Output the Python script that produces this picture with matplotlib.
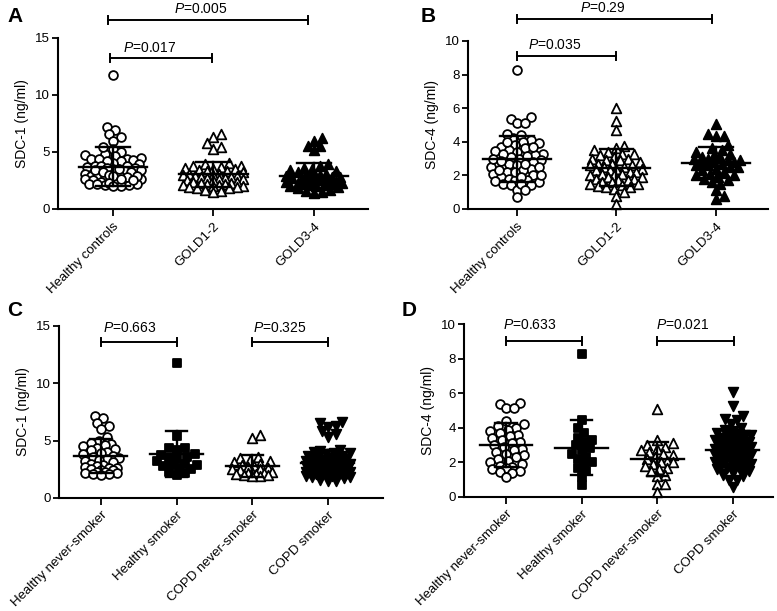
import numpy as np
import matplotlib.pyplot as plt

plt.rcParams['font.family'] = ['Liberation Sans', 'DejaVu Sans']
plt.rcParams['mathtext.fontset'] = 'custom'
plt.rcParams['mathtext.rm'] = 'Liberation Sans'
plt.rcParams['mathtext.it'] = 'Liberation Sans:italic'

# ---- data (ng/ml) ----
# SDC-1, healthy subjects split by smoking
hns_sdc1 = [7.15, 6.95, 6.56, 6.28, 6.0, 5.3, 5.0, 4.8, 4.7, 4.6, 4.5, 4.4, 4.3, 4.2, 4.0,
            3.9, 3.8, 3.7, 3.6, 3.5, 3.4, 3.3, 3.2, 3.1, 3.0, 2.9, 2.8, 2.7, 2.6, 2.6,
            2.5, 2.4, 2.4, 2.3, 2.3, 2.2, 2.2, 2.1, 2.1, 2.0]
hs_sdc1 = [11.74, 5.4, 4.4, 4.4, 4.2, 3.8, 3.75, 3.6, 3.5, 3.4, 3.2, 3.0, 2.9, 2.9, 2.8,
           2.6, 2.5, 2.3, 2.15, 2.0]
cns_sdc1 = [5.49, 5.2, 3.6, 3.5, 3.3, 3.2, 3.1, 3.0, 2.9, 2.8, 2.7, 2.6, 2.5, 2.5, 2.4,
            2.3, 2.3, 2.2, 2.2, 2.1, 2.1, 2.0, 2.0, 1.95, 1.9]
cs_sdc1 = [6.65, 6.5, 6.3, 6.2, 5.8, 5.6, 5.35, 4.2, 4.1, 4.0, 3.9, 3.9, 3.8, 3.7, 3.7,
           3.6, 3.5, 3.5, 3.4, 3.4, 3.3, 3.3, 3.2, 3.2, 3.1, 3.1, 3.0, 3.0, 2.9, 2.9,
           2.9, 2.8, 2.8, 2.8, 2.7, 2.7, 2.7, 2.6, 2.6, 2.6, 2.5, 2.5, 2.5, 2.4, 2.4,
           2.4, 2.3, 2.3, 2.3, 2.2, 2.2, 2.2, 2.1, 2.1, 2.1, 2.0, 2.0, 2.0, 1.9, 1.9,
           1.8, 1.8, 1.7, 1.6, 1.5, 1.45]
g12_sdc1 = [6.55, 6.3, 5.75, 5.45, 5.3, 4.0, 3.9, 3.8, 3.8, 3.7, 3.6, 3.5, 3.5, 3.4, 3.3,
            3.3, 3.2, 3.1, 3.1, 3.0, 3.0, 2.9, 2.9, 2.8, 2.8, 2.7, 2.7, 2.6, 2.6, 2.5,
            2.5, 2.4, 2.4, 2.3, 2.3, 2.2, 2.2, 2.1, 2.1, 2.0, 2.0, 1.9, 1.9, 1.8, 1.8,
            1.7, 1.6, 1.5]
g34_sdc1 = [6.2, 5.95, 5.55, 5.55, 5.15, 3.9, 3.8, 3.6, 3.5, 3.4, 3.3, 3.2, 3.1, 3.0, 3.0,
            2.9, 2.9, 2.8, 2.8, 2.7, 2.7, 2.6, 2.6, 2.5, 2.5, 2.4, 2.4, 2.3, 2.3, 2.2,
            2.2, 2.1, 2.1, 2.0, 2.0, 1.9, 1.8, 1.7, 1.6, 1.5, 1.4]

# SDC-4
hns_sdc4 = [5.45, 5.38, 5.13, 5.13, 4.4, 4.2, 4.1, 4.0, 3.9, 3.8, 3.7, 3.6, 3.5, 3.4, 3.3,
            3.2, 3.1, 3.0, 2.9, 2.8, 2.7, 2.6, 2.5, 2.4, 2.3, 2.2, 2.1, 2.0, 1.9, 1.8,
            1.75, 1.7, 1.6, 1.5, 1.45, 1.4, 1.14]
hs_sdc4 = [8.27, 4.45, 3.97, 3.68, 3.43, 3.3, 3.16, 3.0, 2.85, 2.7, 2.5, 2.33, 2.2, 2.0,
           1.9, 1.69, 1.5, 1.14, 0.69]
cns_sdc4 = [5.07, 3.3, 3.1, 3.0, 2.9, 2.8, 2.7, 2.6, 2.5, 2.4, 2.3, 2.2, 2.1, 2.0, 2.0,
            1.9, 1.8, 1.7, 1.6, 1.5, 1.27, 1.2, 0.75, 0.75, 0.31]
cs_sdc4 = [6.05, 5.28, 4.7, 4.5, 4.45, 4.2, 4.0, 3.9, 3.8, 3.7, 3.6, 3.6, 3.5, 3.5, 3.4,
           3.4, 3.3, 3.3, 3.2, 3.2, 3.1, 3.1, 3.0, 3.0, 3.0, 2.9, 2.9, 2.8, 2.8, 2.8,
           2.7, 2.7, 2.6, 2.6, 2.6, 2.5, 2.5, 2.4, 2.4, 2.4, 2.3, 2.3, 2.2, 2.2, 2.2,
           2.1, 2.1, 2.0, 2.0, 1.9, 1.9, 1.8, 1.8, 1.7, 1.7, 1.6, 1.6, 1.5, 1.4, 1.3,
           1.2, 1.0, 0.98, 0.6]
g12_sdc4 = [6.0, 5.24, 4.7, 3.75, 3.6, 3.5, 3.4, 3.3, 3.3, 3.2, 3.1, 3.0, 3.0, 2.9, 2.9,
            2.8, 2.7, 2.7, 2.6, 2.6, 2.5, 2.5, 2.4, 2.4, 2.3, 2.3, 2.2, 2.2, 2.1, 2.1,
            2.0, 2.0, 1.9, 1.9, 1.8, 1.8, 1.7, 1.7, 1.6, 1.6, 1.5, 1.5, 1.4, 1.35, 1.3,
            1.3, 1.2, 1.0, 0.8, 0.3]
g34_sdc4 = [5.06, 4.46, 4.35, 4.35, 3.8, 3.6, 3.5, 3.4, 3.3, 3.2, 3.1, 3.1, 3.0, 3.0, 2.9,
            2.9, 2.8, 2.8, 2.7, 2.7, 2.6, 2.6, 2.5, 2.5, 2.4, 2.3, 2.2, 2.1, 2.0, 2.0,
            1.9, 1.8, 1.7, 1.6, 1.5, 1.13, 0.77, 0.58]

# mean and SD bars as printed
means_a, sds_a = [3.71, 3.04, 2.93], [1.70, 1.11, 1.07]
means_b, sds_b = [2.98, 2.46, 2.76], [1.37, 1.09, 0.91]
means_c, sds_c = [3.66, 3.84, 2.79, 3.08], [1.44, 2.03, 0.93, 1.10]
means_d, sds_d = [3.00, 2.85, 2.20, 2.72], [1.26, 1.60, 1.00, 1.15]

labels_gold = ["Healthy controls", "GOLD1-2", "GOLD3-4"]
labels_smoke = ["Healthy never-smoker", "Healthy smoker", "COPD never-smoker", "COPD smoker"]

# marker, filled?
styles_gold = [("o", False), ("^", False), ("^", True)]
styles_smoke = [("o", False), ("s", True), ("^", False), ("v", True)]
msize = {"o": 40, "^": 48, "v": 48, "s": 36}

FIG_W, FIG_H = 777, 611


def swarm_offsets(vals_px, max_w, min_dist=7.0, step=2.0):
    # beeswarm in pixel space; squeezes into +-max_w when crowded
    n = len(vals_px)
    xs = np.zeros(n)
    cands = [0.0]
    k = 1
    while k * step <= max_w:
        cands += [k * step, -k * step]
        k += 1
    placed_x, placed_y = [], []
    for i in np.argsort(vals_px):
        y = vals_px[i]
        best, best_d = 0.0, -1.0
        for c in cands:
            if placed_x:
                dd = np.hypot(np.array(placed_x) - c, np.array(placed_y) - y).min()
            else:
                dd = 1e9
            if dd >= min_dist:
                best = c
                break
            if dd > best_d + 0.5:
                best, best_d = c, dd
        xs[i] = best
        placed_x.append(best)
        placed_y.append(y)
    return xs


def draw_panel(ax, groups, means, sds, labels, styles, ymax, ystep, ylabel, xlim,
               widths, mean_hw, cap_hw):
    ax.set_xlim(*xlim)
    ax.set_ylim(0, ymax)
    pos = ax.get_position()
    px_x = pos.width * FIG_W / (xlim[1] - xlim[0])
    px_y = pos.height * FIG_H / ymax
    for i, vals in enumerate(groups):
        v = np.asarray(vals, dtype=float)
        xs = i + swarm_offsets(v * px_y, widths[i]) / px_x
        m, filled = styles[i]
        ax.scatter(xs, v, s=msize[m], marker=m, facecolor="black" if filled else "white",
                   edgecolor="black", linewidth=1.3, zorder=2, clip_on=False)
        mu, sd = means[i], sds[i]
        ax.plot([i - mean_hw, i + mean_hw], [mu, mu], color="black", lw=1.7, zorder=3)
        ax.plot([i, i], [mu - sd, mu + sd], color="black", lw=1.7, zorder=3)
        for yy in (mu - sd, mu + sd):
            ax.plot([i - cap_hw, i + cap_hw], [yy, yy], color="black", lw=1.7, zorder=3)
    ax.set_yticks(np.arange(0, ymax + 0.1, ystep))
    ax.set_xticks(range(len(labels)))
    ax.set_xticklabels(labels, rotation=45, ha="right", rotation_mode="anchor", fontsize=9.5)
    ax.tick_params(axis="y", labelsize=9.5, width=1.3, length=4, pad=2)
    ax.tick_params(axis="x", width=1.3, length=5, pad=3)
    ax.set_ylabel(ylabel, fontsize=10, labelpad=4)
    for sp in ("top", "right"):
        ax.spines[sp].set_visible(False)
    for sp in ("left", "bottom"):
        ax.spines[sp].set_linewidth(1.5)


def bracket(ax, x0, x1, y, tick, text, tx, ty):
    ax.plot([x0, x1], [y, y], color="black", lw=1.4, clip_on=False)
    for xx in (x0, x1):
        ax.plot([xx, xx], [y - tick, y + tick], color="black", lw=1.4, clip_on=False)
    ax.text(tx, ty, text, ha="center", va="center", fontsize=10, clip_on=False)


fig = plt.figure(figsize=(7.77, 6.11), dpi=100)

ax_a = fig.add_axes([0.0746, 0.658, 0.399, 0.280])
ax_b = fig.add_axes([0.6023, 0.658, 0.3861, 0.275])
ax_c = fig.add_axes([0.0759, 0.185, 0.4170, 0.2815])
ax_d = fig.add_axes([0.5972, 0.1866, 0.3977, 0.2831])

draw_panel(ax_a, [hns_sdc1 + hs_sdc1, g12_sdc1, g34_sdc1], means_a, sds_a, labels_gold,
           styles_gold, 15, 5, "SDC-1 (ng/ml)", (-0.547, 2.537), [29, 30, 29], 0.34, 0.17)
draw_panel(ax_b, [hns_sdc4 + hs_sdc4, g12_sdc4, g34_sdc4], means_b, sds_b, labels_gold,
           styles_gold, 10, 2, "SDC-4 (ng/ml)", (-0.49, 2.52), [26, 26, 25], 0.34, 0.17)
draw_panel(ax_c, [hns_sdc1, hs_sdc1, cns_sdc1, cs_sdc1], means_c, sds_c, labels_smoke,
           styles_smoke, 15, 5, "SDC-1 (ng/ml)", (-0.555, 3.73), [19, 20, 20, 22], 0.35, 0.14)
draw_panel(ax_d, [hns_sdc4, hs_sdc4, cns_sdc4, cs_sdc4], means_d, sds_d, labels_smoke,
           styles_smoke, 10, 2, "SDC-4 (ng/ml)", (-0.555, 3.53), [19, 14, 17, 19], 0.35, 0.14)

bracket(ax_a, -0.03, 0.985, 13.25, 0.36, r"$\it{P}$=0.017", 0.37, 14.1)
bracket(ax_a, -0.05, 1.94, 16.6, 0.36, r"$\it{P}$=0.005", 0.87, 17.5)
bracket(ax_b, 0.0, 1.0, 9.12, 0.24, r"$\it{P}$=0.035", 0.38, 9.75)
bracket(ax_b, 0.0, 1.96, 11.3, 0.24, r"$\it{P}$=0.29", 0.86, 11.95)
bracket(ax_c, 0.0, 1.01, 13.63, 0.36, r"$\it{P}$=0.663", 0.38, 14.85)
bracket(ax_c, 2.0, 3.0, 13.63, 0.36, r"$\it{P}$=0.325", 2.37, 14.85)
bracket(ax_d, 0.0, 1.01, 9.03, 0.24, r"$\it{P}$=0.633", 0.32, 9.95)
bracket(ax_d, 2.0, 3.01, 9.03, 0.24, r"$\it{P}$=0.021", 2.33, 9.95)

for lab, x, y in [("A", 15, 17), ("B", 428, 17), ("C", 15, 310), ("D", 409, 310)]:
    fig.text(x / FIG_W, 1 - y / FIG_H, lab, fontsize=15, fontweight="bold", ha="center", va="center")

fig.savefig("out.png", dpi=100)
